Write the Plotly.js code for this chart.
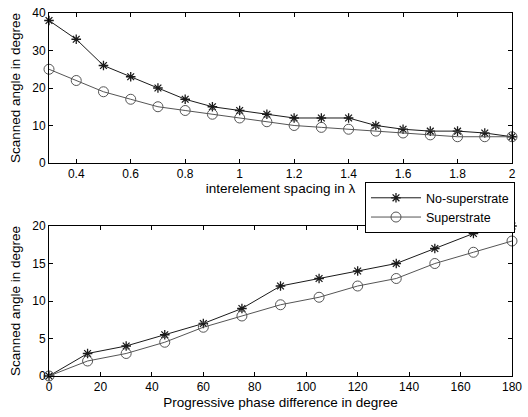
<!DOCTYPE html>
<html><head><meta charset="utf-8">
<script src="https://cdn.plot.ly/plotly-3.0.1.min.js"></script>
<style>html,body{margin:0;padding:0;background:#fff}#c{width:528px;height:417px}</style>
</head><body><div id="c"></div>
<script>
var spacing = [0.3,0.4,0.5,0.6,0.7,0.8,0.9,1.0,1.1,1.2,1.3,1.4,1.5,1.6,1.7,1.8,1.9,2.0];
var spacingNoSup = [38,33,26,23,20,17,15,14,13,12,12,12,10,9,8.5,8.5,8,7];
var spacingSup = [25,22,19,17,15,14,13,12,11,10,9.5,9,8.5,8,7.5,7,7,7];
var phase = [0,15,30,45,60,75,90,105,120,135,150,165,180];
var phaseNoSup = [0,3,4,5.5,7,9,12,13,14,15,17,19,20];
var phaseSup = [0,2,3,4.5,6.5,8,9.5,10.5,12,13,15,16.5,18];
var seriesNames = ['No-superstrate','Superstrate'];

var c1 = '#1a1a1a', c2 = '#555';
function tr(x,y,name,sym,col,xa,ya,show){
  return {x:x,y:y,name:name,type:'scatter',mode:'lines+markers',xaxis:xa,yaxis:ya,showlegend:show,cliponaxis:false,
    line:{color:col,width:1},
    marker:{symbol:sym,size:sym==='circle-open'?10:8,color:col,line:{color:col,width:sym==='circle-open'?1:1.3}}};
}
var data = [
  tr(spacing,spacingNoSup,seriesNames[0],'asterisk-open',c1,'x','y',true),
  tr(spacing,spacingSup,seriesNames[1],'circle-open',c2,'x','y',true),
  tr(phase,phaseNoSup,seriesNames[0],'asterisk-open',c1,'x2','y2',false),
  tr(phase,phaseSup,seriesNames[1],'circle-open',c2,'x2','y2',false)
];
var ax = {showline:true,linecolor:'#000',linewidth:1,mirror:'allticks',ticks:'inside',ticklen:4,tickcolor:'#000',
  showgrid:false,zeroline:false,tickfont:{family:'Liberation Sans, Arial',size:12,color:'#000'}};
function A(o){return Object.assign({},ax,o);}
var tf = {family:'Liberation Sans, Arial',size:13.5,color:'#000'};
var layout = {
  width:528,height:417,margin:{l:49,r:16,t:13,b:41},paper_bgcolor:'#fff',plot_bgcolor:'#fff',
  font:{family:'Liberation Sans, Arial',color:'#000'},
  xaxis:A({domain:[0,1],range:[0.3,2],tickvals:[0.4,0.6,0.8,1,1.2,1.4,1.6,1.8,2],ticktext:['0.4','0.6','0.8','1','1.2','1.4','1.6','1.8','2'],
    anchor:'y',title:{text:'interelement spacing in λ',font:tf,standoff:0}}),
  yaxis:A({domain:[0.5868,1],range:[0,40],tickvals:[0,10,20,30,40],anchor:'x',title:{text:'Scanned angle in degree',font:tf,standoff:8}}),
  xaxis2:A({domain:[0,1],range:[0,180],tickvals:[0,20,40,60,80,100,120,140,160,180],anchor:'y2',
    title:{text:'Progressive phase difference in degree',font:tf,standoff:4}}),
  yaxis2:A({domain:[0,0.4132],range:[0,20],tickvals:[0,5,10,15,20],anchor:'x2',title:{text:'Scanned angle in degree',font:tf,standoff:8}}),
  legend:{x:0.6825,y:0.534,xanchor:'left',yanchor:'top',bgcolor:'#fff',bordercolor:'#000',borderwidth:1,
    font:{family:'Liberation Sans, Arial',size:12.5,color:'#000'},itemwidth:50,tracegroupgap:0}
};
Plotly.newPlot('c',data,layout,{staticPlot:true});
</script></body></html>
